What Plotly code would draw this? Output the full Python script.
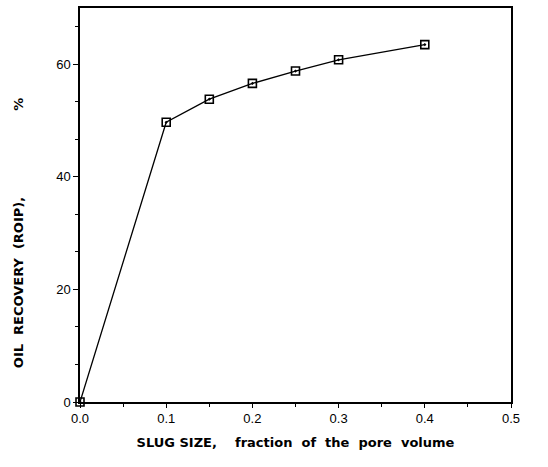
import plotly.graph_objects as go

slug_size = [0.0, 0.1, 0.15, 0.2, 0.25, 0.3, 0.4]
oil_recovery = [0.0, 49.7, 53.8, 56.6, 58.8, 60.8, 63.5]

x_ticks = [0.0, 0.1, 0.2, 0.3, 0.4, 0.5]
x_tick_labels = ["0.0", "0.1", "0.2", "0.3", "0.4", "0.5"]
y_ticks = [0, 20, 40, 60]

fig = go.Figure()
fig.add_trace(go.Scatter(
    x=slug_size, y=oil_recovery, mode="lines+markers",
    line=dict(color="black", width=1.3),
    marker=dict(symbol="square-open-dot", size=8, color="black", line=dict(width=1.6)),
    showlegend=False, cliponaxis=False,
))

font = dict(family="Liberation Sans, Arial, sans-serif", color="black")
tfont = dict(family="DejaVu Sans, sans-serif", color="black", size=13)

fig.update_layout(
    width=548, height=467,
    margin=dict(l=80, r=37, t=6, b=65),
    paper_bgcolor="white", plot_bgcolor="white",
    font=dict(size=12, **font),
    xaxis=dict(
        range=[0, 0.5], tickvals=x_ticks, ticktext=x_tick_labels,
        ticks="outside", ticklen=4, tickwidth=1.2, tickcolor="black",
        showline=True, linecolor="black", linewidth=1.5, mirror=True,
        showgrid=False, zeroline=False,
        tickfont=dict(size=13, **font),
        minor=dict(dtick=0.05, ticks="outside", ticklen=3, tickcolor="black"),
        title=dict(text="<b>SLUG SIZE,&nbsp;&nbsp;&nbsp; fraction&nbsp; of&nbsp; the&nbsp; pore&nbsp; volume</b>",
                   font=tfont, standoff=13),
    ),
    yaxis=dict(
        range=[0, 70], tickvals=y_ticks,
        ticks="outside", ticklen=5, tickwidth=1.2, tickcolor="black",
        showline=True, linecolor="black", linewidth=1.5, mirror=True,
        showgrid=False, zeroline=False,
        tickfont=dict(size=13, **font),
        minor=dict(tick0=0, dtick=20/3, ticks="outside", ticklen=3, tickcolor="black"),
    ),
    annotations=[dict(
        text="<b>OIL&nbsp; RECOVERY&nbsp; (ROIP),&nbsp;&nbsp;&nbsp;&nbsp;&nbsp;&nbsp;&nbsp;&nbsp;&nbsp;&nbsp;&nbsp;&nbsp;&nbsp;&nbsp;&nbsp;&nbsp;&nbsp;&nbsp; %</b>",
        xref="paper", yref="paper", x=-0.142, y=0.428,
        xanchor="center", yanchor="middle", textangle=-90,
        showarrow=False, font=tfont,
    )],
)

fig.write_html("out.html")
